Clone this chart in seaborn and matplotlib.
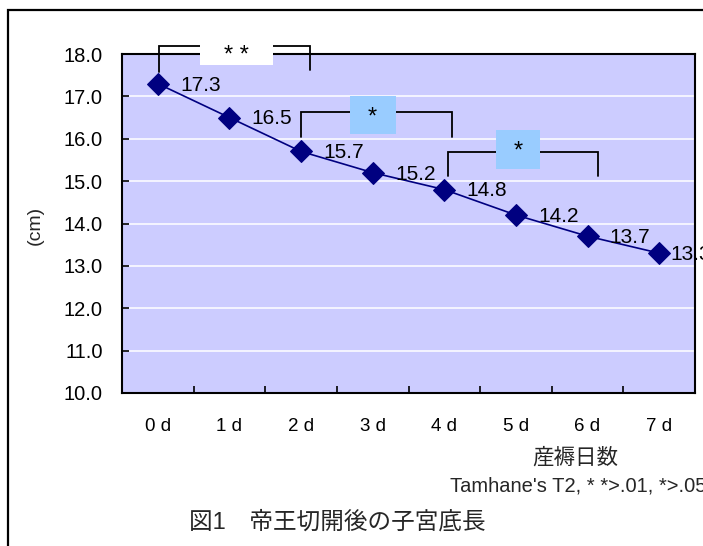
import matplotlib
matplotlib.use("Agg")
import matplotlib.pyplot as plt
import seaborn as sns
import pandas as pd
from matplotlib.patches import Rectangle

# ---- data ----
days = ["0d", "1d", "2d", "3d", "4d", "5d", "6d", "7d"]
day_labels = ["0 d", "1 d", "2 d", "3 d", "4 d", "5 d", "6 d", "7 d"]
length_cm = [17.3, 16.5, 15.7, 15.2, 14.8, 14.2, 13.7, 13.3]
y_ticks = [10.0, 11.0, 12.0, 13.0, 14.0, 15.0, 16.0, 17.0, 18.0]
sig_pairs = [(0, 2, "* *"), (2, 4, "*"), (4, 6, "*")]

sns.set_theme(style="white")
plt.rcParams["font.family"] = ["Liberation Sans", "Noto Sans CJK JP", "DejaVu Sans"]

W, H = 703, 546
fig = plt.figure(figsize=(W / 100, H / 100), dpi=100)
fig.patch.set_facecolor("white")

def fx(px):
    return px / W

def fy(py):
    return 1 - py / H

ax = fig.add_axes([fx(122), fy(393), (695 - 122) / W, (393 - 54) / H])
ax.set_facecolor("#CCCCFF")

df = pd.DataFrame({"pos": range(len(days)), "day": days, "cm": length_cm})
sns.lineplot(data=df, x="pos", y="cm", ax=ax, color="#000080", linewidth=1.2,
             marker="D", markersize=11, markeredgecolor="#000080",
             markerfacecolor="#000080", zorder=5)

ax.set_xlim(-0.5, len(days) - 0.5)
ax.set_ylim(10, 18)
ax.set_yticks(y_ticks)
ax.set_yticklabels([f"{v:.1f}" for v in y_ticks])
ax.yaxis.grid(True, color="white", linewidth=1.1)
ax.xaxis.grid(False)
ax.set_axisbelow(True)

ax.set_xticks(range(len(days)))
ax.set_xticklabels(day_labels)
ax.set_xticks([i + 0.5 for i in range(len(days) - 1)], minor=True)
ax.tick_params(axis="x", which="major", length=0, pad=18, labelsize=13.5, colors="black")
ax.tick_params(axis="x", which="minor", direction="in", length=5, width=1.2, color="black", bottom=True)
ax.tick_params(axis="y", direction="in", length=5, width=1.2, color="black", left=True,
               pad=14, labelsize=14.5, labelcolor="black")
ax.set_xlabel("")
ax.set_ylabel("")
for s in ax.spines.values():
    s.set_visible(True)
    s.set_color("black")
    s.set_linewidth(1.5)

# data labels
for i, v in enumerate(length_cm):
    dx = 16 if i < len(length_cm) - 1 else 8
    ax.annotate(f"{v:.1f}", (i, v), xytext=(dx, -1), textcoords="offset points",
                ha="left", va="center", fontsize=15, color="black", zorder=6,
                annotation_clip=False)

# significance brackets
br_specs = [
    # x_left, x_right, y_top, y_left_bottom, y_right_bottom, box(x0,x1,y0,y1), color, text pos
    (0.01, 2.13, 18.19, 17.57, 17.62, (0.59, 1.61, 17.74, 18.28), "white", (1.1, 17.96)),
    (2.00, 4.11, 16.63, 16.04, 16.05, (2.69, 3.32, 16.11, 17.01), "#99CCFF", (3.0, 16.50)),
    (4.05, 6.15, 15.69, 15.12, 15.12, (4.72, 5.34, 15.29, 16.21), "#99CCFF", (5.03, 15.70)),
]
for (a, b, label), (xl, xr, yt, ybl, ybr, box, col, tp) in zip(sig_pairs, br_specs):
    ax.plot([xl, xl, xr, xr], [ybl, yt, yt, ybr], color="black", linewidth=1.3,
            clip_on=False, zorder=7, solid_joinstyle="miter")
    ax.add_patch(Rectangle((box[0], box[2]), box[1] - box[0], box[3] - box[2],
                           facecolor=col, edgecolor="none", clip_on=False, zorder=8))
    ax.text(tp[0], tp[1], label, ha="center", va="center", fontsize=17,
            color="black", zorder=9, clip_on=False)

# outer frame
fig.patches.append(Rectangle((fx(8), -0.2), 1.2, fy(10) + 0.2, transform=fig.transFigure,
                             facecolor="none", edgecolor="black", linewidth=1.6, zorder=0))

# texts
fig.text(fx(35), fy(225), "(cm)", rotation=90, ha="center", va="center", fontsize=14)
fig.text(fx(575), fy(458), "産褥日数", ha="center", va="center", fontsize=15.5)
fig.text(fx(706), fy(486), "Tamhane's T2, * *>.01, *>.05", ha="right", va="center", fontsize=14.5)
fig.text(fx(337), fy(522), "図1　帝王切開後の子宮底長", ha="center", va="center", fontsize=17)

fig.savefig("out.png", dpi=100)
